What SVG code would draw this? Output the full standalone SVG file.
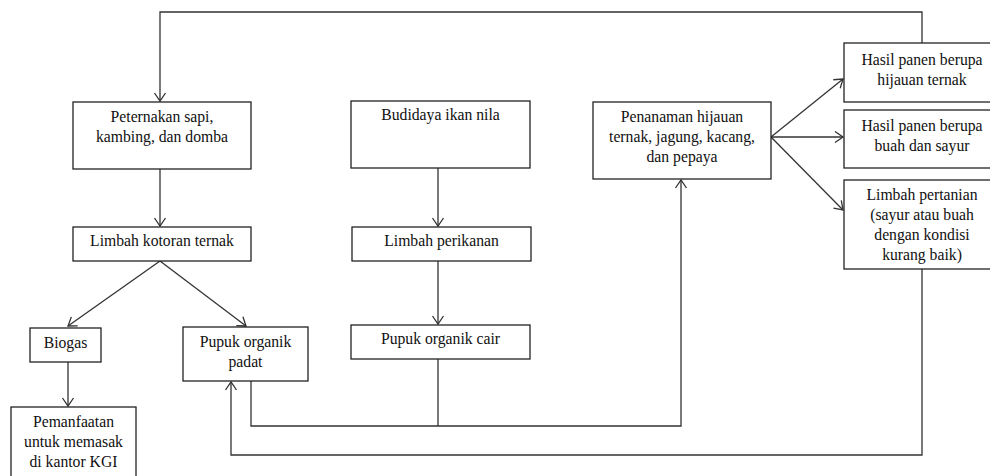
<svg xmlns="http://www.w3.org/2000/svg" width="990" height="476" viewBox="0 0 990 476">
<defs>
<style>
.box{fill:#fff;stroke:#222;stroke-width:1.3}
.t{font-family:"Liberation Serif","Times New Roman",serif;font-size:15.7px;fill:#111;text-anchor:middle}
.c{fill:none;stroke:#333;stroke-width:1.3}
</style>
<marker id="ah" markerUnits="userSpaceOnUse" markerWidth="20" markerHeight="20" viewBox="-10 -10 20 20" refX="0" refY="0" orient="auto">
<path d="M-8,-5.5 L0,0 L-8,5.5" fill="none" stroke="#333" stroke-width="1.3"/>
</marker>
</defs>
<rect width="990" height="476" fill="#fff"/>
<g id="connectors">
<polyline class="c" points="922,43 922,12 160,12 160,101" marker-end="url(#ah)"/>
<line class="c" x1="160" y1="169" x2="160" y2="226" marker-end="url(#ah)"/>
<line class="c" x1="160" y1="261" x2="68" y2="326" marker-end="url(#ah)"/>
<line class="c" x1="160" y1="261" x2="246" y2="326" marker-end="url(#ah)"/>
<line class="c" x1="68" y1="362" x2="68" y2="406" marker-end="url(#ah)"/>
<line class="c" x1="438" y1="168" x2="438" y2="226" marker-end="url(#ah)"/>
<line class="c" x1="438" y1="261" x2="438" y2="324" marker-end="url(#ah)"/>
<line class="c" x1="438" y1="359" x2="438" y2="426"/>
<polyline class="c" points="251,381 251,426 681,426 681,180" marker-end="url(#ah)"/>
<polyline class="c" points="922,269 922,455 231,455 231,382" marker-end="url(#ah)"/>
<line class="c" x1="771" y1="137" x2="843" y2="79" marker-end="url(#ah)"/>
<line class="c" x1="771" y1="137" x2="843" y2="137" marker-end="url(#ah)"/>
<line class="c" x1="771" y1="137" x2="843" y2="210" marker-end="url(#ah)"/>
</g>
<g id="peternakan"><rect class="box" x="73" y="102" width="178" height="67"/><text class="t" x="162" y="122">Peternakan sapi,</text><text class="t" x="162" y="142">kambing, dan domba</text></g>
<g id="limbah-kotoran"><rect class="box" x="73" y="227" width="178" height="34"/><text class="t" x="162" y="246">Limbah kotoran ternak</text></g>
<g id="biogas"><rect class="box" x="30" y="328" width="71" height="34"/><text class="t" x="65.5" y="348">Biogas</text></g>
<g id="pupuk-padat"><rect class="box" x="183" y="327" width="125" height="54"/><text class="t" x="245.5" y="347">Pupuk organik</text><text class="t" x="245.5" y="367">padat</text></g>
<g id="pemanfaatan"><rect class="box" x="11" y="407" width="125" height="75"/><text class="t" x="73.5" y="427">Pemanfaatan</text><text class="t" x="73.5" y="447">untuk memasak</text><text class="t" x="73.5" y="467">di kantor KGI</text></g>
<g id="budidaya"><rect class="box" x="351" y="101" width="179" height="67"/><text class="t" x="440.5" y="120">Budidaya ikan nila</text></g>
<g id="limbah-perikanan"><rect class="box" x="352" y="227" width="179" height="34"/><text class="t" x="441.5" y="246">Limbah perikanan</text></g>
<g id="pupuk-cair"><rect class="box" x="351" y="325" width="179" height="34"/><text class="t" x="440.5" y="344">Pupuk organik cair</text></g>
<g id="penanaman"><rect class="box" x="593" y="102" width="178" height="77"/><text class="t" x="682" y="122">Penanaman hijauan</text><text class="t" x="682" y="142">ternak, jagung, kacang,</text><text class="t" x="682" y="162">dan pepaya</text></g>
<g id="hasil-hijauan"><rect class="box" x="844" y="43" width="150" height="59"/><text class="t" x="922" y="65">Hasil panen berupa</text><text class="t" x="922" y="85">hijauan ternak</text></g>
<g id="hasil-buah"><rect class="box" x="844" y="110" width="150" height="58"/><text class="t" x="922" y="131">Hasil panen berupa</text><text class="t" x="922" y="151">buah dan sayur</text></g>
<g id="limbah-pertanian"><rect class="box" x="844" y="180" width="150" height="89"/><text class="t" x="922" y="200">Limbah pertanian</text><text class="t" x="922" y="220">(sayur atau buah</text><text class="t" x="922" y="240">dengan kondisi</text><text class="t" x="922" y="260">kurang baik)</text></g>
</svg>
